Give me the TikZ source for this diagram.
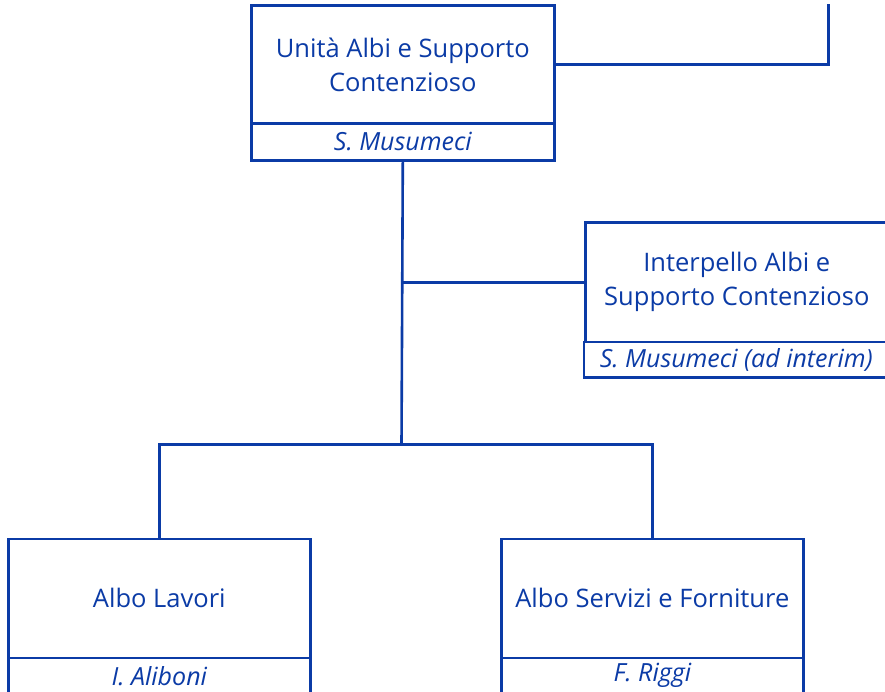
\documentclass[tikz,border=0pt]{standalone}
\usepackage{fontspec}
\setmainfont{Open Sans}
\definecolor{ublue}{HTML}{0B3BA6}
\begin{document}
\begin{tikzpicture}[x=1pt,y=-1pt,
  unitbox/.style={draw=ublue, line width=2.6pt, fill=white, inner sep=0pt,
    align=center, text=ublue, anchor=north west,
    font=\fontsize{25.5}{34}\selectfont},
  namebox/.style={unitbox, font=\fontsize{25}{34}\selectfont\itshape},
  link/.style={draw=ublue, line width=2.6pt}]
\useasboundingbox (0,0) rectangle (885,692);
\clip (0,0) rectangle (885,692);
\coordinate (topend) at (828.5,4);
\coordinate (bus) at (401.5,444.5);
\node[unitbox, minimum width=303pt, minimum height=117.5pt] (t) at (250,4.5) {Unità Albi e Supporto\\Contenzioso};
\node[namebox, minimum width=303pt, minimum height=37pt] (tn) at (250,122) {S. Musumeci};
\node[unitbox, minimum width=303pt, minimum height=119pt] (ip) at (584,221.5) {Interpello Albi e\\Supporto Contenzioso};
\node[namebox, minimum width=305pt, minimum height=35.5pt] (ipn) at (582.5,340.5) {S. Musumeci (ad interim)};
\node[unitbox, minimum width=302pt, minimum height=119pt] (lav) at (7,537.5) {Albo Lavori};
\node[namebox, minimum width=302pt, minimum height=36pt] (lavn) at (7,656.5) {I. Aliboni};
\node[unitbox, minimum width=302pt, minimum height=119pt] (serv) at (500,537.5) {Albo Servizi e Forniture};
\node[namebox, minimum width=302pt, minimum height=36pt] (servn) at (500,656.5) {F. Riggi};
\draw[link] (t.east) -| (topend);
\draw[link] (tn.south) -- (bus);
\draw[link] (tn.south |- ip.west) -- (ip.west);
\draw[link] (lav.north) |- (bus) -| (serv.north);
\end{tikzpicture}
\end{document}
